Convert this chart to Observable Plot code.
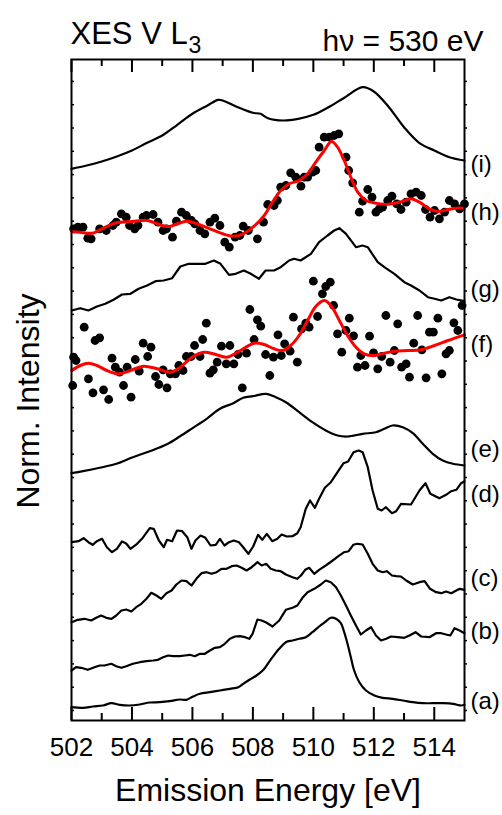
<!DOCTYPE html>
<html><head><meta charset="utf-8">
<script src="https://cdn.jsdelivr.net/npm/d3@7"></script>
<script src="https://cdn.jsdelivr.net/npm/@observablehq/plot@0.6"></script>
<style>
body{margin:0;background:#fff;}
svg{font-family:"Liberation Sans",Arial,sans-serif;}
</style>
</head><body><div id="chart"></div>
<script>
// Emission energy (eV) vs normalized intensity (arbitrary units, curves offset)
const xMajorTicks = [502, 504, 506, 508, 510, 512, 514];
const xMinorTicks = [503, 505, 507, 509, 511, 513];
const spectrumLabels = ["(a)", "(b)", "(c)", "(d)", "(e)", "(f)", "(g)", "(h)", "(i)"];
const labelLevels = [1.95, 8.95, 14.25, 22.65, 27.1, 37.65, 43.15, 50.85, 55.6];

const curveI = [[502,55.17],[502.5,55.5],[503,55.9],[503.5,56.4],[504,57.0],[504.5,57.77],[505,58.5],[505.5,59.57],[506,60.67],[506.5,61.5],[506.85,62.07],[507,62.0],[507.5,61.33],[508,60.77],[508.25,60.67],[508.5,60.23],[509,60.0],[509.5,60.17],[510,60.57],[510.5,61.33],[511,62.23],[511.63,63.33],[512,62.9],[512.5,61.33],[513,59.33],[513.5,57.77],[514,57.0],[514.5,56.33],[515,56.0]];

const fitH = [[502,48.9],[502.27,48.83],[502.7,48.73],[503,49.17],[503.48,49.77],[504,49.9],[504.5,50.0],[505,49.5],[505.25,49.4],[505.5,49.67],[505.8,49.93],[506,49.83],[506.5,49.27],[507,48.67],[507.35,48.43],[507.68,48.67],[508,49.33],[508.35,50.4],[508.65,51.83],[508.92,53.0],[509.2,53.67],[509.53,54.0],[509.81,54.67],[510.08,55.83],[510.36,57.0],[510.6,57.9],[510.8,57.33],[511.02,56.0],[511.24,54.33],[511.47,52.83],[511.74,52.0],[512.07,51.73],[512.4,51.6],[512.85,51.83],[513.23,52.17],[513.51,51.83],[513.84,51.17],[514.12,50.9],[514.45,51.1],[514.73,51.23],[515,51.23]];

const dotsH = [[502.07,49.17],[502.21,49.33],[502.38,49.33],[502.54,48.23],[502.65,48.17],[502.93,49.17],[503.15,49.0],[503.37,49.5],[503.48,49.83],[503.65,50.67],[503.81,50.33],[503.92,49.5],[504.09,49.17],[504.2,49.5],[504.37,50.33],[504.48,50.5],[504.7,50.6],[504.86,49.83],[505.03,49.0],[505.14,49.17],[505.34,48.33],[505.47,49.93],[505.64,50.83],[505.8,50.5],[505.97,50.0],[506.08,49.67],[506.25,49.0],[506.41,48.67],[506.58,49.83],[506.74,50.23],[506.91,49.5],[507.07,47.83],[507.22,47.33],[507.41,48.33],[507.57,48.5],[507.68,49.43],[507.85,49.0],[508.15,48.17],[508.35,49.83],[508.49,51.6],[508.7,51.5],[508.81,52.0],[508.92,53.33],[509.09,53.5],[509.25,54.77],[509.42,54.33],[509.59,53.43],[509.7,54.33],[509.81,54.33],[509.97,54.83],[510.08,55.0],[510.19,57.33],[510.36,58.33],[510.53,58.33],[510.69,58.5],[510.84,58.67],[511.08,56.33],[511.17,55.0],[511.3,53.77],[511.52,50.83],[511.63,51.93],[511.8,53.1],[511.94,52.33],[512.07,50.83],[512.18,51.17],[512.29,51.33],[512.46,52.0],[512.6,52.43],[512.76,51.67],[512.9,51.1],[513.07,51.83],[513.23,52.67],[513.4,52.83],[513.57,52.5],[513.71,51.1],[513.86,50.33],[514.01,51.0],[514.17,50.17],[514.34,50.83],[514.5,52.0],[514.67,51.67],[514.84,51.17],[515,51.67]];

const curveG = [[502.01,41.0],[502.29,41.23],[502.56,41.0],[502.84,41.4],[503.12,41.67],[503.39,42.07],[503.67,42.6],[503.95,42.67],[504.22,43.17],[504.5,43.5],[504.78,43.93],[505.05,44.0],[505.33,44.23],[505.6,45.4],[505.88,45.67],[506.16,45.67],[506.43,45.67],[506.71,46.0],[506.93,45.67],[507.21,44.57],[507.43,44.67],[507.7,45.0],[507.93,44.67],[508.2,44.17],[508.42,45.0],[508.7,45.0],[508.92,45.33],[509.2,46.0],[509.36,46.17],[509.58,46.0],[509.92,46.67],[510.19,47.83],[510.47,48.5],[510.69,49.0],[510.86,49.23],[511.08,48.67],[511.41,47.33],[511.63,47.5],[511.8,47.33],[512.13,45.83],[512.35,45.33],[512.68,44.67],[513.01,43.83],[513.23,43.5],[513.51,43.0],[513.79,42.33],[514.01,42.17],[514.23,42.0],[514.5,42.33],[514.73,42.1],[515,41.93]];

const fitF = [[502.01,35.0],[502.29,35.5],[502.56,35.73],[502.84,35.5],[503.17,35.0],[503.56,34.67],[503.95,35.0],[504.39,35.43],[504.83,35.17],[505.27,34.83],[505.6,35.33],[505.99,36.33],[506.38,36.83],[506.77,36.6],[507.15,36.33],[507.59,37.0],[508.04,37.73],[508.37,37.6],[508.7,37.17],[508.98,37.0],[509.25,37.5],[509.53,38.5],[509.81,40.0],[510.08,41.4],[510.36,42.0],[510.58,41.5],[510.86,40.0],[511.13,38.5],[511.41,37.33],[511.68,36.67],[512.02,36.5],[512.35,36.73],[512.68,36.93],[513.12,37.0],[513.56,37.07],[514.01,37.5],[514.45,38.0],[515,38.57]];

const dotsF = [[502.07,36.33],[502.15,36.0],[502.04,33.5],[502.42,39.33],[502.56,34.17],[502.71,32.77],[502.78,38.0],[502.93,38.27],[503.06,33.07],[503.23,32.1],[503.34,36.23],[503.45,35.33],[503.59,34.83],[503.72,33.5],[503.84,35.33],[503.97,32.33],[504.11,36.1],[504.24,34.93],[504.37,37.73],[504.52,36.4],[504.63,37.33],[504.78,34.4],[504.89,33.6],[505.03,35.07],[505.16,33.27],[505.27,34.67],[505.44,34.67],[505.55,35.5],[505.69,35.0],[505.8,36.4],[505.96,36.4],[506.07,37.5],[506.25,36.4],[506.34,38.1],[506.46,39.73],[506.58,34.73],[506.69,35.07],[506.82,35.83],[506.96,37.43],[507.12,35.67],[507.24,37.5],[507.37,35.67],[507.51,36.6],[507.65,33.27],[507.79,36.73],[507.9,41.1],[508.04,38.1],[508.15,40.07],[508.26,39.43],[508.42,36.6],[508.56,34.5],[508.68,36.33],[508.83,38.57],[508.94,36.5],[509.05,37.67],[509.23,36.93],[509.34,40.33],[509.47,35.83],[509.61,39.17],[509.75,39.73],[509.86,39.33],[510.0,43.93],[510.14,40.4],[510.3,42.67],[510.41,43.4],[510.56,43.83],[510.67,41.5],[510.8,38.67],[510.94,36.83],[511.08,39.0],[511.19,40.23],[511.33,38.47],[511.46,35.33],[511.57,36.5],[511.71,35.5],[511.86,38.43],[511.99,36.77],[512.13,35.17],[512.26,36.4],[512.4,40.5],[512.54,35.83],[512.68,37.0],[512.79,39.67],[512.92,35.33],[513.07,35.67],[513.18,34.33],[513.32,37.73],[513.45,40.5],[513.59,37.07],[513.73,34.27],[513.84,38.83],[513.97,38.83],[514.12,40.23],[514.25,34.67],[514.39,36.67],[514.5,37.0],[514.65,39.77],[514.78,39.0],[514.92,41.5]];

const curveE = [[502.0,24.73],[502.38,24.93],[502.93,25.27],[503.48,25.67],[504.03,26.33],[504.59,26.93],[505.14,27.6],[505.58,28.4],[506.02,29.27],[506.47,30.17],[506.91,31.17],[507.35,31.73],[507.68,32.27],[508.01,32.43],[508.44,32.67],[508.76,32.33],[509.09,31.83],[509.53,30.83],[509.97,29.83],[510.41,29.0],[510.8,28.5],[511.13,28.4],[511.63,28.67],[512.07,28.83],[512.35,29.17],[512.62,29.5],[512.96,29.33],[513.29,28.73],[513.62,27.67],[513.95,26.67],[514.28,26.0],[514.62,25.67],[515.0,25.5]];

const curveD = [[502.01,17.83],[502.23,17.93],[502.4,18.23],[502.56,17.83],[502.7,17.57],[502.84,17.93],[503.01,18.17],[503.17,17.33],[503.34,16.83],[503.5,17.17],[503.67,17.9],[503.8,17.73],[503.95,17.17],[504.17,17.67],[504.33,18.17],[504.59,19.23],[504.72,19.17],[504.89,18.0],[505.05,17.33],[505.16,18.07],[505.33,17.93],[505.49,19.0],[505.66,18.93],[505.83,18.33],[505.97,17.17],[506.1,18.0],[506.27,18.5],[506.43,18.27],[506.6,17.5],[506.77,17.57],[506.91,18.17],[507.06,17.5],[507.21,17.83],[507.37,18.0],[507.54,17.83],[507.68,17.33],[507.85,16.67],[508.01,17.4],[508.17,18.57],[508.31,18.07],[508.46,18.67],[508.64,17.93],[508.81,18.17],[508.95,18.6],[509.12,18.4],[509.31,18.43],[509.47,18.73],[509.58,19.33],[509.75,21.17],[509.89,22.0],[510.05,21.27],[510.19,22.17],[510.38,23.27],[510.58,23.83],[510.8,24.83],[511.0,25.73],[511.15,25.9],[511.33,26.83],[511.5,27.0],[511.63,26.83],[511.8,25.33],[511.96,23.0],[512.13,21.17],[512.26,21.0],[512.4,21.33],[512.6,20.73],[512.74,20.93],[512.9,21.67],[513.23,21.6],[513.51,23.0],[513.71,23.73],[513.87,22.67],[514.17,22.23],[514.39,22.57],[514.56,22.93],[514.73,23.07],[514.89,23.73],[515.0,23.93]];

const curveC = [[502.0,9.83],[502.21,10.07],[502.43,10.17],[502.65,10.0],[502.82,10.27],[502.98,10.5],[503.15,10.27],[503.32,10.17],[503.48,10.5],[503.65,11.0],[503.81,11.1],[503.98,10.9],[504.14,11.33],[504.31,11.67],[504.48,12.17],[504.64,12.77],[504.81,12.5],[504.97,12.17],[505.14,12.73],[505.31,13.0],[505.47,13.6],[505.64,14.0],[505.8,13.93],[505.97,13.5],[506.13,14.17],[506.3,14.73],[506.47,14.83],[506.63,14.67],[506.8,14.83],[506.96,15.17],[507.13,15.17],[507.3,15.43],[507.46,15.5],[507.63,15.27],[507.79,15.0],[507.96,15.33],[508.15,15.83],[508.29,15.5],[508.44,15.67],[508.59,15.17],[508.76,15.0],[508.92,14.93],[509.09,14.6],[509.31,14.33],[509.47,14.17],[509.59,14.5],[509.73,15.07],[509.86,15.27],[510.03,14.67],[510.19,15.07],[510.41,15.5],[510.64,16.0],[510.83,16.43],[511.02,16.83],[511.17,16.93],[511.32,17.57],[511.46,17.67],[511.63,17.6],[511.8,16.67],[511.96,15.67],[512.13,15.0],[512.29,14.83],[512.43,14.93],[512.6,14.5],[512.74,14.43],[512.9,14.4],[513.07,14.0],[513.29,13.6],[513.51,13.83],[513.68,13.93],[513.86,13.17],[514.06,12.83],[514.23,12.73],[514.39,12.9],[514.56,12.73],[514.73,13.0],[514.84,13.17],[515.0,13.07]];

const curveB = [[502.0,5.0],[502.15,5.33],[502.32,5.27],[502.54,5.07],[502.76,5.33],[502.93,5.5],[503.09,5.5],[503.32,5.67],[503.48,5.43],[503.65,5.27],[503.81,5.43],[504.03,5.67],[504.26,5.83],[504.48,5.93],[504.7,6.0],[504.86,6.07],[505.03,6.33],[505.2,6.5],[505.36,6.43],[505.58,6.43],[505.75,6.5],[505.91,6.57],[506.08,6.43],[506.25,6.67],[506.41,6.67],[506.58,7.0],[506.74,7.27],[506.91,7.33],[507.07,7.67],[507.24,8.17],[507.41,8.4],[507.57,8.43],[507.74,8.33],[507.88,8.17],[507.99,8.67],[508.15,10.1],[508.29,10.0],[508.44,9.8],[508.65,9.4],[508.87,10.0],[509.09,11.07],[509.31,11.27],[509.47,11.5],[509.64,12.27],[509.81,12.83],[510.03,13.17],[510.25,13.6],[510.41,14.0],[510.58,13.83],[510.75,13.33],[510.91,12.5],[511.08,11.5],[511.24,10.5],[511.41,9.5],[511.57,8.6],[511.74,9.0],[511.91,9.33],[512.07,8.5],[512.24,8.0],[512.41,8.17],[512.57,8.4],[512.79,8.33],[513.01,8.27],[513.18,8.5],[513.38,8.83],[513.57,8.4],[513.84,8.33],[514.06,8.73],[514.23,8.73],[514.39,8.6],[514.53,8.5],[514.67,9.23],[514.84,9.0],[515.0,8.73]];

const curveA = [[502.0,1.33],[502.38,1.27],[502.71,1.4],[503.04,1.5],[503.32,1.73],[503.59,1.57],[503.92,1.5],[504.26,1.6],[504.59,1.8],[504.92,1.83],[505.25,1.93],[505.58,2.1],[505.8,2.07],[506.02,2.4],[506.25,2.67],[506.58,2.83],[506.91,3.0],[507.24,3.17],[507.52,3.33],[507.68,3.67],[507.9,4.1],[508.12,4.5],[508.35,5.07],[508.5,5.7],[508.65,6.33],[508.87,7.17],[509.09,7.83],[509.31,8.0],[509.53,8.17],[509.75,8.33],[509.97,8.83],[510.19,9.4],[510.41,9.9],[510.58,10.27],[510.75,10.17],[510.91,9.73],[511.02,8.83],[511.13,7.67],[511.24,6.33],[511.35,5.0],[511.52,3.83],[511.74,3.0],[512.02,2.5],[512.29,2.27],[512.62,2.17],[512.96,2.0],[513.29,1.83],[513.62,1.73],[513.95,1.73],[514.28,1.73],[514.62,1.67],[514.89,1.5],[515.0,1.57]];

const W = 502, H = 815, mT = 59, mB = 95, mL = 71, mR = 38;
const innerH = H - mT - mB, innerW = W - mL - mR;
const yTicks = d3.range(1, 66, 2.33);
const px = d => d[0], py = d => d[1];

const lineOpts = (curve) => ({x: px, y: py, stroke: "black", strokeWidth: 2.2, curve, strokeLinejoin: "round"});

const chart = Plot.plot({
  width: W, height: H,
  marginTop: mT, marginBottom: mB, marginLeft: mL, marginRight: mR,
  style: {fontFamily: '"Liberation Sans", Arial, sans-serif', color: "black", background: "white"},
  x: {domain: [502, 515]},
  y: {domain: [0, 66.1], axis: null},
  marks: [
    Plot.line(curveA, lineOpts("catmull-rom")),
    Plot.line(curveB, lineOpts("linear")),
    Plot.line(curveC, lineOpts("linear")),
    Plot.line(curveD, lineOpts("linear")),
    Plot.line(curveE, lineOpts("catmull-rom")),
    Plot.dot(dotsF, {x: px, y: py, r: 4.4, fill: "black"}),
    Plot.line(fitF, {x: px, y: py, stroke: "#ff0000", strokeWidth: 3, curve: "catmull-rom"}),
    Plot.line(curveG, lineOpts("linear")),
    Plot.dot(dotsH, {x: px, y: py, r: 4.4, fill: "black"}),
    Plot.line(fitH, {x: px, y: py, stroke: "#ff0000", strokeWidth: 3, curve: "catmull-rom"}),
    Plot.line(curveI, lineOpts("catmull-rom")),
    Plot.frame({stroke: "black", strokeWidth: 2}),
    Plot.tickX(xMajorTicks, {x: d => d, insetTop: innerH - 13, strokeWidth: 2}),
    Plot.tickX(xMinorTicks, {x: d => d, insetTop: innerH - 7, strokeWidth: 2}),
    Plot.tickX(xMajorTicks, {x: d => d, insetBottom: innerH - 13, strokeWidth: 2}),
    Plot.tickX(xMinorTicks, {x: d => d, insetBottom: innerH - 7, strokeWidth: 2}),
    Plot.tickY(yTicks, {y: d => d, insetRight: innerW - 3, strokeWidth: 1.5}),
    Plot.tickY(yTicks, {y: d => d, insetLeft: innerW, insetRight: -3, strokeWidth: 1.5}),
    Plot.axisX({ticks: xMajorTicks, tickSize: 0, tickPadding: 17, fontSize: 26, tickFormat: d => String(d), label: null}),
    Plot.text(spectrumLabels, {x: () => 515, y: (d, i) => labelLevels[i], text: d => d, dx: 6, textAnchor: "start", fontSize: 24}),
    Plot.text(["Emission Energy [eV]"], {frameAnchor: "bottom", dy: 80, text: d => d, fontSize: 32}),
    Plot.text(["Norm. Intensity"], {frameAnchor: "left", dx: -43, dy: 11, rotate: -90, textAnchor: "middle", text: d => d, fontSize: 32}),
    Plot.text(["XES V L"], {frameAnchor: "top-left", dx: -1, dy: -38, textAnchor: "start", text: d => d, fontSize: 31}),
    Plot.text(["3"], {frameAnchor: "top-left", dx: 117, dy: -23, textAnchor: "start", text: d => d, fontSize: 23}),
    Plot.text(["h\u03bd = 530 eV"], {frameAnchor: "top-right", dx: 19, dy: -30, textAnchor: "end", text: d => d, fontSize: 30})
  ]
});
document.getElementById("chart").appendChild(chart);
</script>
</body></html>
